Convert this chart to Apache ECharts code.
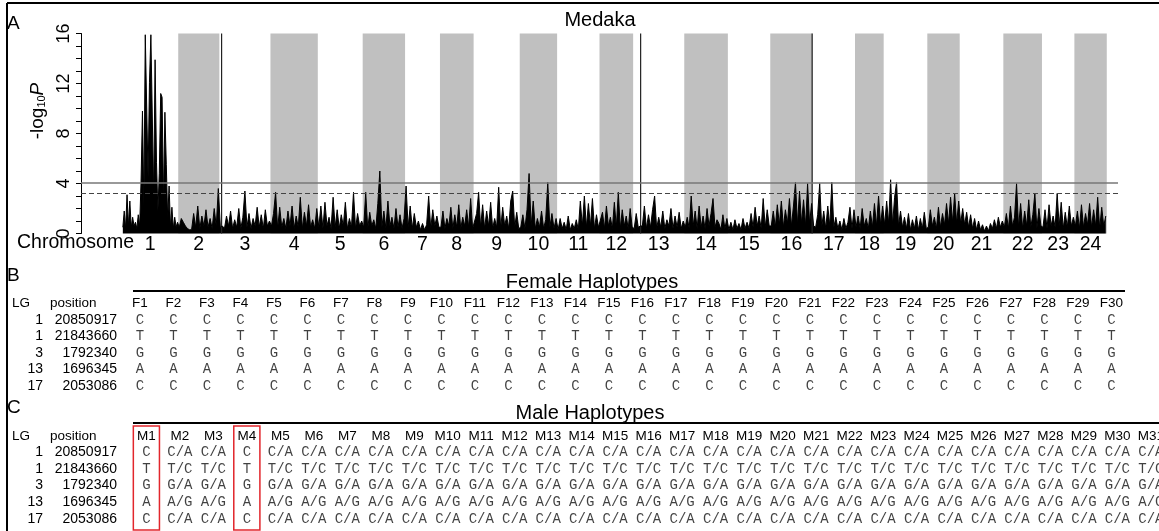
<!DOCTYPE html>
<html><head><meta charset="utf-8">
<script src="https://cdn.jsdelivr.net/npm/echarts@6/dist/echarts.min.js"></script>
<style>html,body{margin:0;padding:0;background:#fff}#c{width:1159px;height:531px}</style>
</head><body><div id="c"></div>
<script>
// ---------- Panel A: genome scan (-log10 P) ----------
const chromNames = ['1','2','3','4','5','6','7','8','9','10','11','12','13','14','15','16','17','18','19','20','21','22','23','24'];
const chromLengthsMb = [45,33,41,38,36,34,28,27,37,30,34,27,41,35,34,34,34,23,35,26,35,31,26,26];
const chr01 = [0.5,1.8,0.4,3.1,0.6,2.6,0.5,1.3,0.6,0.9,0.4,1.5,0.6,4.2,9.8,2.2,15.9,15.9,4.5,12.1,15.9,15.8,3.0,13.9,5.7,1.8,4.8,11.2,10.9,2.5,9.7,5.5,1.2,3.8,0.5,2.1,0.4,1.3,0.5,0.9];
const chr02 = [0.5,1.2,0.9,0.6,0.4,0.3,0.3,1.6,0.5,2.2,0.4,1.4,0.6,1.9,0.5,1.2,0.4,2.0,0.6,3.6];
const chr03 = [0.5,0.6,0.4,1.4,0.6,1.8,0.4,1.1,0.5,2.0,0.4,1.3,3.4,0.5,1.6,0.4,1.2,0.6,2.1,0.5,1.5,0.4,1.9,0.6,1.0];
const chr04 = [0.6,1.6,3.3,0.4,2.1,0.5,1.2,0.4,1.8,0.6,2.2,0.4,1.4,0.5,2.9,0.4,1.7,0.6,2.3,0.5,1.1,0.4,2.0];
const chr05 = [0.5,2.2,0.4,2.5,0.6,1.3,0.4,2.9,0.5,1.9,0.4,1.5,0.6,2.5,0.4,1.2,0.5,3.3,0.4,1.6,0.6,1.0];
const chr06 = [0.5,3.3,0.4,1.7,0.6,1.1,0.4,2.4,5.0,0.5,1.8,0.4,2.6,0.6,1.3,0.4,2.0,0.5,1.5,0.4,1.2];
const chr07 = [3.8,0.5,2.2,0.4,1.6,0.5,1.0,0.3,0.8,0.3,0.7,3.0,0.4,1.9,0.6,1.4,0.5];
const chr08 = [0.5,1.8,0.4,1.2,0.6,2.1,0.4,1.5,0.5,2.3,0.4,1.3,0.6,1.9,0.5,2.8,0.4];
const chr09 = [0.4,1.6,3.3,0.5,2.3,0.4,1.8,0.6,2.5,0.4,1.2,0.5,3.7,0.4,2.1,0.6,1.4,0.4,2.6,3.4,0.5,1.7,0.4];
const chr10 = [0.5,1.5,0.4,1.9,4.8,0.6,2.6,0.4,1.2,0.5,1.8,0.4,1.1,4.1,0.5,1.6,0.4,1.2];
const chr11 = [0.3,1.2,0.4,0.9,0.3,1.4,0.3,0.8,0.4,1.1,0.3,2.6,0.6,3.0,0.5,2.4,0.6,2.8,0.4,1.5,0.5];
const chr12 = [0.5,1.7,0.4,2.2,0.6,1.3,0.4,2.5,0.5,3.3,0.4,1.9,0.6,1.4,0.4,2.0,0.5];
const chr13 = [0.4,1.6,0.5,0.6,0.6,2.2,0.4,1.5,0.5,1.9,3.0,0.4,1.3,0.5,1.8,0.4,1.1,0.6,2.0,0.4,1.4,0.5,1.7,0.4,1.0];
const chr14 = [0.5,1.3,0.4,3.0,0.6,1.8,0.4,2.2,0.5,1.4,0.4,2.0,0.6,1.6,2.8,0.5,1.1,0.8,0.3,1.5,0.4,1.2];
const chr15 = [0.3,0.9,0.3,1.1,0.4,0.8,0.3,1.2,0.4,0.9,0.4,1.6,0.5,2.1,0.6,1.4,0.4,2.8,0.5,1.9,0.6];
const chr16 = [0.6,1.8,0.5,2.3,0.7,2.6,0.5,1.9,0.8,2.8,0.6,2.2,4.1,0.7,3.4,0.8,2.7,0.6,4.0,0.8,2.4];
const chr17 = [0.6,0.5,1.5,4.0,0.5,1.8,0.4,2.2,0.6,4.1,0.5,1.3,0.4,1.0,0.3,1.2,0.4,0.9,2.1,0.4,1.9];
const chr18 = [0.5,1.4,0.4,2.0,0.6,1.2,0.4,1.8,0.5,2.4,0.6,3.0,0.7,2.2];
const chr19 = [0.7,2.6,0.8,4.3,0.7,2.9,4.1,0.6,1.8,0.5,1.3,0.4,1.6,0.3,1.1,0.4,1.4,0.3,1.2,0.4,1.7,0.4];
const chr20 = [0.5,1.9,0.6,1.3,0.4,2.1,0.5,1.6,0.7,2.4,0.8,2.9,0.9,3.2,0.8,2.6];
const chr21 = [0.8,2.0,0.7,1.7,0.5,1.5,0.4,1.2,0.3,1.0,0.3,0.7,0.2,0.6,0.2,0.8,0.4,1.1,0.4,1.3,0.5,1.0];
const chr22 = [0.5,1.6,0.4,2.2,0.6,1.3,4.0,0.5,2.4,0.4,1.8,0.6,2.7,0.5,1.5,3.2,0.4,2.0,0.6];
const chr23 = [0.5,1.9,0.4,2.3,0.6,1.4,0.5,3.2,0.6,2.5,0.4,1.7,0.5,2.2,0.6,1.3];
const chr24 = [0.6,1.8,0.4,2.3,0.5,1.6,0.7,2.4,0.5,1.9,0.6,2.9,0.4,2.1,0.6,1.4];
const pValueTracks = [chr01,chr02,chr03,chr04,chr05,chr06,chr07,chr08,chr09,chr10,chr11,chr12,chr13,chr14,chr15,chr16,chr17,chr18,chr19,chr20,chr21,chr22,chr23,chr24];
// isolated single-SNP hits: [chromosome, position within chromosome (Mb), -log10 P]
const isolatedHits = [[3, 1.8, 16], [13, 6.0, 16], [16, 33.6, 16]];
const significanceThreshold = 4.08;
const suggestiveThreshold = 3.26;
const yTicks = [0,4,8,12,16];

// ---------- Panels B & C: haplotypes ----------
const snpLG = ['1','1','3','13','17'];
const snpPositions = ['20850917','21843660','1792340','1696345','2053086'];
const femaleIds = ['F1','F2','F3','F4','F5','F6','F7','F8','F9','F10','F11','F12','F13','F14','F15','F16','F17','F18','F19','F20','F21','F22','F23','F24','F25','F26','F27','F28','F29','F30'];
const maleIds = ['M1','M2','M3','M4','M5','M6','M7','M8','M9','M10','M11','M12','M13','M14','M15','M16','M17','M18','M19','M20','M21','M22','M23','M24','M25','M26','M27','M28','M29','M30','M31'];
const femaleSnp1 = 'C C C C C C C C C C C C C C C C C C C C C C C C C C C C C C'.split(' ');
const femaleSnp2 = 'T T T T T T T T T T T T T T T T T T T T T T T T T T T T T T'.split(' ');
const femaleSnp3 = 'G G G G G G G G G G G G G G G G G G G G G G G G G G G G G G'.split(' ');
const femaleSnp4 = 'A A A A A A A A A A A A A A A A A A A A A A A A A A A A A A'.split(' ');
const femaleSnp5 = 'C C C C C C C C C C C C C C C C C C C C C C C C C C C C C C'.split(' ');
const maleSnp1 = 'C C/A C/A C C/A C/A C/A C/A C/A C/A C/A C/A C/A C/A C/A C/A C/A C/A C/A C/A C/A C/A C/A C/A C/A C/A C/A C/A C/A C/A C/A'.split(' ');
const maleSnp2 = 'T T/C T/C T T/C T/C T/C T/C T/C T/C T/C T/C T/C T/C T/C T/C T/C T/C T/C T/C T/C T/C T/C T/C T/C T/C T/C T/C T/C T/C T/C'.split(' ');
const maleSnp3 = 'G G/A G/A G G/A G/A G/A G/A G/A G/A G/A G/A G/A G/A G/A G/A G/A G/A G/A G/A G/A G/A G/A G/A G/A G/A G/A G/A G/A G/A G/A'.split(' ');
const maleSnp4 = 'A A/G A/G A A/G A/G A/G A/G A/G A/G A/G A/G A/G A/G A/G A/G A/G A/G A/G A/G A/G A/G A/G A/G A/G A/G A/G A/G A/G A/G A/G'.split(' ');
const maleSnp5 = 'C C/A C/A C C/A C/A C/A C/A C/A C/A C/A C/A C/A C/A C/A C/A C/A C/A C/A C/A C/A C/A C/A C/A C/A C/A C/A C/A C/A C/A C/A'.split(' ');
const femaleGenotypes = [femaleSnp1,femaleSnp2,femaleSnp3,femaleSnp4,femaleSnp5];
const maleGenotypes = [maleSnp1,maleSnp2,maleSnp3,maleSnp4,maleSnp5];

// ---------- build ----------
const FONT = 'Liberation Sans, Arial, sans-serif';
const MONO = 'Liberation Mono, Courier New, monospace';
const chromStarts = [];
let acc = 0;
chromLengthsMb.forEach(l => { chromStarts.push(acc); acc += l; });
const chromCenters = chromStarts.map((s, i) => s + chromLengthsMb[i] / 2);
const scanData = [];
pValueTracks.forEach((vals, k) => {
  const step = chromLengthsMb[k] / vals.length;
  vals.forEach((v, i) => scanData.push([chromStarts[k] + (i + 0.5) * step, v]));
});
const hitData = isolatedHits.map(h => [chromStarts[h[0] - 1] + h[1], h[2]]);
const bands = [];
chromNames.forEach((n, k) => { if (k % 2 === 1) bands.push([{xAxis: chromStarts[k]}, {xAxis: chromStarts[k] + chromLengthsMb[k]}]); });

function genoCells(rows) {
  const out = [];
  rows.forEach((row, r) => row.forEach((g, c) => out.push([c, r, g])));
  return out;
}
const homozygousMales = maleIds.map((m, c) => c).filter(c => maleGenotypes.every(row => row[c].indexOf('/') < 0)).map(c => [c, 0]);

const chart = echarts.init(document.getElementById('c'), null, {renderer: 'canvas'});
const txt = (text, x, y, size, align, valign, extra) => Object.assign({
  type: 'text', silent: true,
  style: Object.assign({text, x, y, fill: '#000', font: size + 'px ' + FONT, fontSize: size, fontFamily: FONT,
    textAlign: align, align: align, textVerticalAlign: valign, verticalAlign: valign}, extra || {})
});
const line = (x1, y1, x2, y2, w) => ({type: 'line', silent: true, shape: {x1, y1, x2, y2}, style: {stroke: '#000', lineWidth: w}});

const tableY = (gi, margin) => ({
  gridIndex: gi, type: 'category', data: snpPositions, inverse: true, position: 'left',
  axisLine: {show: false}, axisTick: {show: false}, splitLine: {show: false},
  axisLabel: {margin, fontSize: 14, color: '#000', fontFamily: FONT, interval: 0}
});
const tableLG = (gi, margin) => ({
  gridIndex: gi, type: 'category', data: snpPositions, inverse: true, position: 'left',
  axisLine: {show: false}, axisTick: {show: false}, splitLine: {show: false},
  axisLabel: {margin, fontSize: 14, color: '#000', fontFamily: FONT, interval: 0, formatter: (v, i) => snpLG[i]}
});
const tableX = (gi, ids) => ({
  gridIndex: gi, type: 'category', data: ids, position: 'top',
  axisLine: {show: false}, axisTick: {show: false}, splitLine: {show: false},
  axisLabel: {margin: 1, fontSize: 13.5, color: '#000', fontFamily: FONT, interval: 0}
});
const genoSeries = (gi, rows) => ({
  type: 'scatter', xAxisIndex: gi, yAxisIndex: gi === 1 ? 1 : 3, data: genoCells(rows),
  symbol: 'circle', symbolSize: 1, itemStyle: {color: 'rgba(0,0,0,0)'}, silent: true,
  label: {show: true, position: 'inside', formatter: p => p.value[2], fontFamily: MONO, fontSize: 14, color: '#111'}
});

chart.setOption({
  animation: false,
  backgroundColor: '#fff',
  textStyle: {fontFamily: FONT},
  grid: [
    {left: 81, top: 33.5, width: 1037, height: 200, outerBoundsMode: 'none', containLabel: false},
    {left: 123.25, top: 311.75, width: 1005, height: 82.5, outerBoundsMode: 'none', containLabel: false},
    {left: 129.65, top: 444, width: 1038, height: 83.25, outerBoundsMode: 'none', containLabel: false}
  ],
  xAxis: [
    {gridIndex: 0, type: 'value', min: -33, max: 799,
      axisLine: {show: false, onZero: false}, axisTick: {show: false}, splitLine: {show: false},
      axisLabel: {customValues: chromCenters, margin: 1, fontSize: 19.5, color: '#000', fontFamily: FONT,
        formatter: v => chromNames[chromCenters.findIndex(c => Math.abs(c - v) < 0.01)]}},
    tableX(1, femaleIds),
    tableX(2, maleIds)
  ],
  yAxis: [
    {gridIndex: 0, type: 'value', min: 0, max: 16, interval: 1,
      axisLine: {show: true, onZero: false, lineStyle: {color: '#000', width: 1}},
      axisTick: {show: true, length: 5, lineStyle: {color: '#000'}},
      splitLine: {show: false},
      axisLabel: {rotate: 90, margin: 8, fontSize: 18, color: '#000', fontFamily: FONT,
        formatter: v => yTicks.indexOf(v) >= 0 ? String(v) : ''},
      name: '-log{s|10}{p|P}', nameLocation: 'middle', nameGap: 30, nameRotate: 90,
      nameTextStyle: {fontSize: 19, color: '#000', fontFamily: FONT, padding: [0, 0, 0, 45],
        rich: {s: {fontSize: 11, fontFamily: FONT, verticalAlign: 'bottom', color: '#000'},
               p: {fontSize: 19, fontStyle: 'italic', fontFamily: FONT, color: '#000'}}}},
    tableY(1, 6.25),
    tableLG(1, 80.25),
    tableY(2, 12.65),
    tableLG(2, 86.65)
  ],
  series: [
    {type: 'line', xAxisIndex: 0, yAxisIndex: 0, data: [], silent: true, z: 1,
      markArea: {silent: true, itemStyle: {color: '#c0c0c0'}, data: bands}},
    {type: 'line', xAxisIndex: 0, yAxisIndex: 0, data: scanData, showSymbol: false, silent: true, z: 3,
      lineStyle: {color: '#000', width: 1}, areaStyle: {color: '#000', opacity: 1}},
    {type: 'bar', xAxisIndex: 0, yAxisIndex: 0, data: hitData, barWidth: 1.2, silent: true, z: 3,
      itemStyle: {color: '#222'}},
    {type: 'line', xAxisIndex: 0, yAxisIndex: 0, data: [], silent: true, z: 4,
      markLine: {silent: true, symbol: 'none', label: {show: false},
        data: [
          {yAxis: significanceThreshold, lineStyle: {color: '#777', width: 1.5, type: 'solid'}},
          {yAxis: suggestiveThreshold, lineStyle: {color: '#444', width: 1, type: [5, 3]}}
        ]}},
    genoSeries(1, femaleGenotypes),
    genoSeries(2, maleGenotypes),
    {type: 'custom', xAxisIndex: 2, yAxisIndex: 3, data: homozygousMales, silent: true, clip: false, z: 5,
      renderItem: (params, api) => {
        const top = api.coord([api.value(0), 0]);
        const bot = api.coord([api.value(0), snpPositions.length - 1]);
        const sz = api.size([1, 1]);
        const w = sz[0] * 0.78, h = sz[1];
        return {type: 'rect', shape: {x: top[0] - w / 2, y: top[1] - 1.58 * h, width: w, height: bot[1] - top[1] + 2.24 * h},
          style: {fill: 'none', stroke: '#e2262c', lineWidth: 1.5}};
      }}
  ],
  graphic: [
    line(7, 3, 1159, 3, 2),
    line(7, 3, 7, 531, 2),
    txt('A', 7, 24, 19, 'left', 'middle'),
    txt('Medaka', 600, 20, 20, 'center', 'middle'),
    txt('Chromosome', 17, 243, 19.5, 'left', 'middle'),
    txt('B', 7, 276, 19, 'left', 'middle'),
    txt('Female Haplotypes', 592, 282, 20, 'center', 'middle'),
    line(133, 291, 1125, 291, 2),
    txt('LG', 12, 303, 13.5, 'left', 'middle'),
    txt('position', 50, 303, 13.5, 'left', 'middle'),
    txt('C', 7, 408, 19, 'left', 'middle'),
    txt('Male Haplotypes', 590, 413, 20, 'center', 'middle'),
    line(133, 423, 1159, 423, 2),
    txt('LG', 12, 436, 13.5, 'left', 'middle'),
    txt('position', 50, 436, 13.5, 'left', 'middle')
  ]
});
</script></body></html>
